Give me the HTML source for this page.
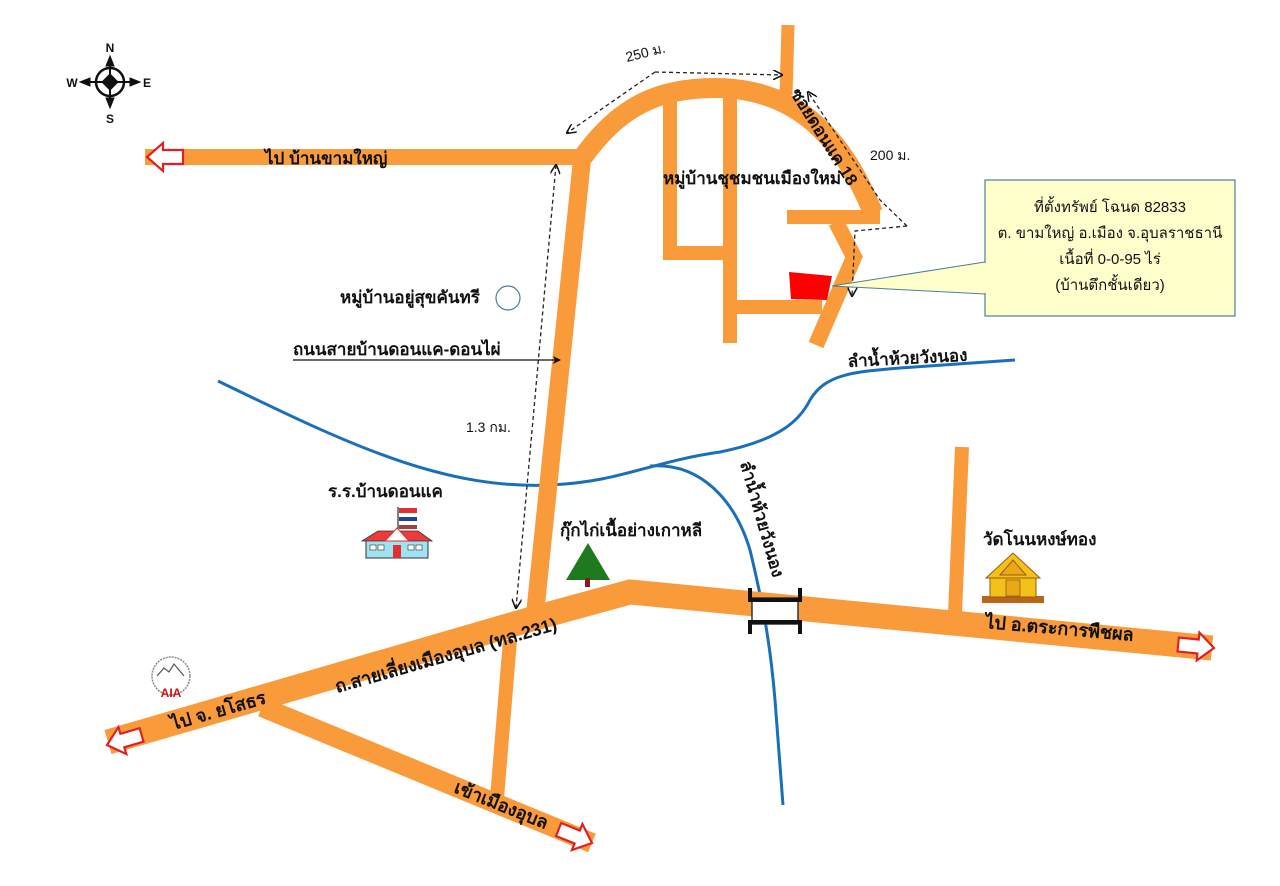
<!DOCTYPE html>
<html><head><meta charset="utf-8"><style>
html,body{margin:0;padding:0;background:#fff;}
svg{display:block;}
text{font-family:"Liberation Sans","DejaVu Sans",sans-serif;fill:#111;}
.th{font-family:"Liberation Serif","DejaVu Serif",serif;font-size:17px;}
</style></head><body>
<svg width="1280" height="886" viewBox="0 0 1280 886" xmlns="http://www.w3.org/2000/svg">
<defs>
<marker id="ah" markerWidth="8" markerHeight="8" refX="7" refY="4" orient="auto" markerUnits="userSpaceOnUse"><path d="M0,0 L8,4 L0,8 L2,4 Z" fill="#111"/></marker>
<marker id="ah2" markerWidth="10" markerHeight="10" refX="9" refY="5" orient="auto-start-reverse" markerUnits="userSpaceOnUse"><path d="M0,0 L10,5 L0,10" fill="none" stroke="#111" stroke-width="1.5"/></marker>
<g id="arr"><polygon points="0,0 -16,-14 -16,-7 -36,-7 -36,7 -16,7 -16,14" fill="#fff" stroke="#e02020" stroke-width="2.2"/></g>
</defs>

<g fill="none" stroke="#1a6fba" stroke-width="3">
<path d="M218,381 C340,440 440,490 550,485 C620,482 650,462 720,452 C780,440 800,420 810,400 C825,375 850,372 900,368 L1015,360"/>
<path d="M650,466 C700,462 735,500 750,550 C762,600 770,640 775,700 L783,805"/>
</g>

<g fill="none" stroke="#F99B3B" stroke-linejoin="miter" stroke-linecap="butt">
<path d="M145,157 L585,157" stroke-width="16"/>
<path d="M583,157 C620,105 660,88 715,88 C790,88 840,130 873,213" stroke-width="20"/>
<path d="M788,25 L786,95" stroke-width="13"/>
<path d="M583,150 L535,614" stroke-width="18"/>
<path d="M670,95 L670,253 L727,253" stroke-width="14"/>
<path d="M730,95 L730,343" stroke-width="14"/>
<path d="M730,307 L822,307" stroke-width="14"/>
<path d="M787,217 L880,217" stroke-width="14"/>
<path d="M836,222 L854,257 L816,345" stroke-width="16"/>
<path d="M108,742 L535,618 L630,592 L1212,648" stroke-width="25"/>
<path d="M262,707 L592,843" stroke-width="20"/>
<path d="M510,640 L497,798" stroke-width="14"/>
<path d="M962,447 L955,613" stroke-width="14"/>
</g>

<polygon points="789,272 832,276 827,300 791,299" fill="#ff0000"/>

<use href="#arr" transform="translate(147,157) rotate(180)"/>
<use href="#arr" transform="translate(107,745) rotate(163.8)"/>
<use href="#arr" transform="translate(1214,648) rotate(5.5)"/>
<use href="#arr" transform="translate(592,843) rotate(22)"/>

<rect x="752" y="598" width="46" height="26" fill="#fff" stroke="#333" stroke-width="1.5"/>
<g stroke="#111" stroke-width="4" fill="none">
<path d="M750,588 L750,600 L800,600 L800,588"/>
<path d="M750,634 L750,622 L800,622 L800,634"/>
</g>

<g fill="none" stroke="#222" stroke-width="1.3" stroke-dasharray="4,3">
<path d="M655,72 L567,133" marker-end="url(#ah2)"/>
<path d="M655,72 L782,75" marker-end="url(#ah2)"/>
<path d="M907,226 L880,200 L808,92" marker-end="url(#ah2)"/>
<path d="M907,226 L855,231 L852,296" marker-end="url(#ah2)"/>
<path d="M556,165 L516,608" marker-end="url(#ah2)" marker-start="url(#ah2)"/>
</g>

<polygon points="985,262 832,286 985,294" fill="#ffffcc" stroke="#4e7e9a" stroke-width="1"/>
<rect x="985" y="180" width="250" height="136" fill="#ffffcc" stroke="#4e7e9a" stroke-width="1.2"/>
<line x1="985" y1="263" x2="985" y2="293" stroke="#ffffcc" stroke-width="3"/>
<g font-size="15" text-anchor="middle">
<text x="1110" y="212">ที่ตั้งทรัพย์ โฉนด 82833</text>
<text x="1110" y="238">ต. ขามใหญ่  อ.เมือง จ.อุบลราชธานี</text>
<text x="1110" y="264">เนื้อที่ 0-0-95 ไร่</text>
<text x="1110" y="290">(บ้านตึกชั้นเดียว)</text>
</g>

<g stroke="#111" fill="#111">
<circle cx="110" cy="82" r="14" fill="none" stroke-width="2.5"/>
<line x1="110" y1="60" x2="110" y2="104" stroke-width="2"/>
<line x1="84" y1="82" x2="136" y2="82" stroke-width="2"/>
<polygon points="110,56 106,66 114,66"/><polygon points="110,108 106,98 114,98"/>
<polygon points="80,82 90,78 90,86"/><polygon points="140,82 130,78 130,86"/>
<polygon points="110,74 118,82 110,90 102,82"/>
</g>
<g font-size="12" font-weight="bold" text-anchor="middle">
<text x="110" y="52">N</text><text x="110" y="123">S</text><text x="72" y="87">W</text><text x="147" y="87">E</text>
</g>

<g class="th" font-weight="bold">
<text x="265" y="164">ไป  บ้านขามใหญ่</text>
<text x="663" y="184">หมู่บ้านชุชมชนเมืองใหม่</text>
<text x="340" y="303">หมู่บ้านอยู่สุขคันทรี</text>
<text x="293" y="355">ถนนสายบ้านดอนแค-ดอนไผ่</text>
<text x="328" y="497">ร.ร.บ้านดอนแค</text>
<text x="560" y="536">กุ๊กไก่เนื้อย่างเกาหลี</text>
<text x="983" y="545">วัดโนนหงษ์ทอง</text>
<text x="848" y="367" transform="rotate(-3 848 367)">ลำน้ำห้วยวังนอง</text>
<text x="0" y="0" transform="translate(790,93) rotate(58)">ซอยดอนแค 18</text>
<text x="0" y="0" transform="translate(740,463) rotate(74)">ลำน้ำห้วยวังนอง</text>
<text x="0" y="0" font-size="18" transform="translate(337,693) rotate(-16)">ถ.สายเลี่ยงเมืองอุบล (ทล.231)</text>
<text x="0" y="0" font-size="18" transform="translate(173,730) rotate(-16)">ไป  จ. ยโสธร</text>
<text x="0" y="0" font-size="18" transform="translate(453,792) rotate(22)">เข้าเมืองอุบล</text>
<text x="0" y="0" font-size="18" transform="translate(985,628) rotate(5)">ไป อ.ตระการพืชผล</text>
</g>
<g font-size="14">
<text x="627" y="62" transform="rotate(-14 627 62)">250 ม.</text>
<text x="870" y="160">200 ม.</text>
<text x="466" y="432">1.3 กม.</text>
</g>
<line x1="293" y1="360" x2="560" y2="360" stroke="#111" stroke-width="1.3" marker-end="url(#ah)"/>
<circle cx="508" cy="298" r="12" fill="none" stroke="#4e7e9a" stroke-width="1.2"/>

<g>
<line x1="398" y1="507" x2="398" y2="535" stroke="#555" stroke-width="1.5"/>
<rect x="399" y="508" width="18" height="5" fill="#e03030"/><rect x="399" y="513" width="18" height="4" fill="#fff"/>
<rect x="399" y="517" width="18" height="4" fill="#2040a0"/><rect x="399" y="521" width="18" height="4" fill="#fff"/>
<rect x="399" y="525" width="18" height="4" fill="#a04040"/>
<rect x="366" y="540" width="62" height="18" fill="#9fe2f2" stroke="#333" stroke-width="1"/>
<polygon points="362,541 378,531 418,531 432,541" fill="#ee3a3a" stroke="#333" stroke-width="0.8"/>
<polygon points="385,541 397,528 409,541" fill="#fff" stroke="#e03030"/>
<rect x="393" y="545" width="8" height="13" fill="#e03030"/>
<rect x="370" y="545" width="6" height="5" fill="#fff" stroke="#333" stroke-width="0.6"/>
<rect x="378" y="545" width="6" height="5" fill="#fff" stroke="#333" stroke-width="0.6"/>
<rect x="408" y="545" width="6" height="5" fill="#fff" stroke="#333" stroke-width="0.6"/>
<rect x="416" y="545" width="6" height="5" fill="#fff" stroke="#333" stroke-width="0.6"/>
</g>

<polygon points="588,543 566,580 610,580" fill="#1e7a1e"/>
<rect x="585" y="578" width="5" height="9" fill="#8b1a1a"/>

<g>
<rect x="982" y="596" width="62" height="7" fill="#b9651a"/>
<rect x="990" y="575" width="46" height="22" fill="#f2c21a" stroke="#9a5a10" stroke-width="1"/>
<polygon points="986,578 1013,553 1040,578" fill="#f2c21a" stroke="#9a5a10" stroke-width="1"/>
<polygon points="1000,575 1013,560 1026,575" fill="#e8a818" stroke="#9a5a10" stroke-width="1"/>
<rect x="1006" y="580" width="14" height="16" fill="#e8a818" stroke="#9a5a10" stroke-width="0.8"/>
</g>

<g>
<circle cx="171" cy="676" r="19" fill="none" stroke="#888" stroke-width="1.5" stroke-dasharray="2,1"/>
<path d="M157,676 L164,668 L169,672 L174,664 L184,676" fill="none" stroke="#555" stroke-width="1.2"/>
<text x="171" y="697" font-size="12" font-weight="bold" text-anchor="middle" style="fill:#d01010">AIA</text>
</g>
</svg>
</body></html>
